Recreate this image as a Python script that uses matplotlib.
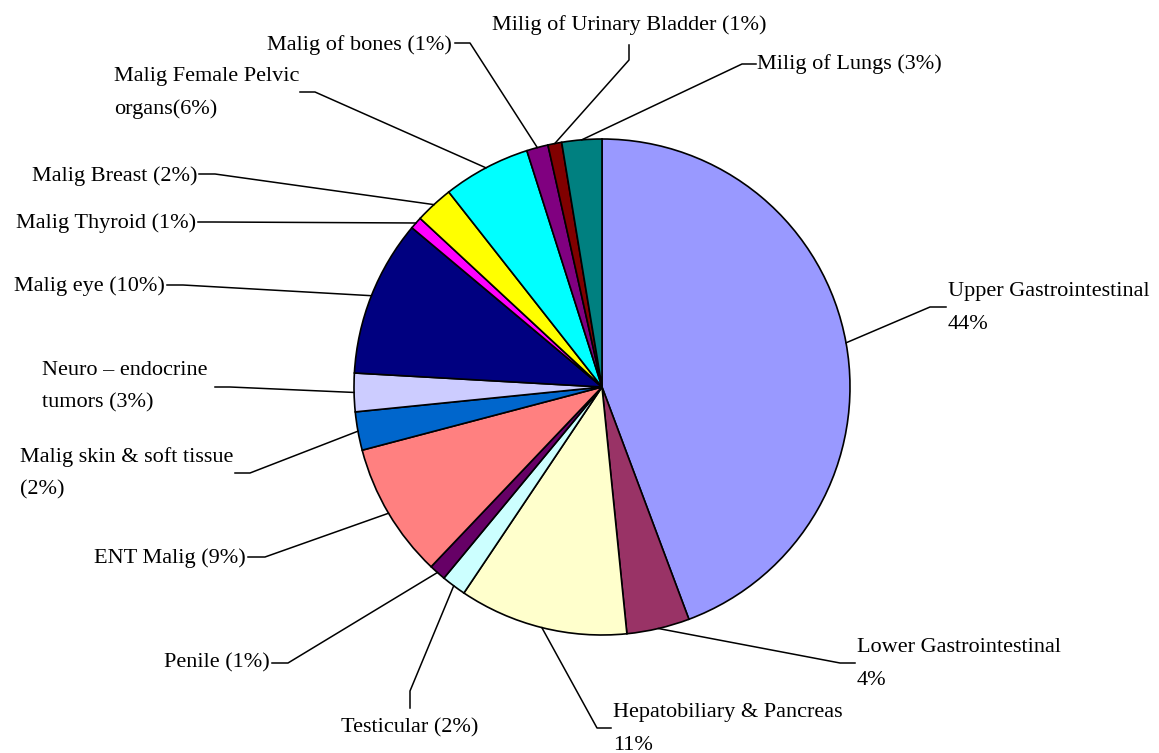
import numpy as np
import matplotlib.pyplot as plt

# 値は画像から読み取った概算
labels = [
    "Upper Gastrointestinal\n44%",
    "Lower Gastrointestinal\n4%",
    "Hepatobiliary & Pancreas\n11%",
    "Testicular (2%)",
    "Penile (1%)",
    "ENT Malig (9%)",
    "Malig skin & soft tissue\n(2%)",
    "Neuro \u2013 endocrine\ntumors (3%)",
    "Malig eye (10%)",
    "Malig Thyroid (1%)",
    "Malig Breast (2%)",
    "Malig Female Pelvic\norgans(6%)",
    "Malig of bones (1%)",
    "Milig of Urinary Bladder (1%)",
    "Milig of Lungs (3%)",
]
values = [44.3, 4.1, 11.0, 1.6, 1.1, 8.8, 2.5, 2.5, 10.2, 0.8, 2.5, 5.7, 1.4, 0.9, 2.6]
colors = ["#9999FF", "#993366", "#FFFFCC", "#CCFFFF", "#660066", "#FF8080",
          "#0066CC", "#CCCCFF", "#000080", "#FF00FF", "#FFFF00", "#00FFFF",
          "#800080", "#800000", "#008080"]

# ラベル配置（ピクセル座標, 上が0）
knee = [(930, 307), (840, 663), (597, 728), (410, 691), (288, 663), (265, 557),
        (250, 473), (230, 387), (183, 285), (213, 222), (215, 174), (315, 92),
        (470, 43), (629, 60), (742, 64)]
stub = [(946, 307), (855, 663), (611, 728), (410, 708), (272, 663), (248, 557),
        (235, 473), (215, 387), (167, 285), (198, 222), (199, 174), (300, 92),
        (455, 43), (629, 45), (756, 64)]
text_xy = [(948, 308), (857, 664), (613, 729), (410, 728), (270, 663), (246, 558),
           (20, 473), (42, 387), (165, 286), (196, 223), (197, 176), (114, 93),
           (452, 45), (629, 25), (757, 64)]
text_ha = ["left", "left", "left", "center", "right", "right", "left", "left",
           "right", "right", "right", "left", "right", "center", "left"]

W, H = 1159, 753
cx, cy, r = 602, 387, 248

plt.rcParams['font.family'] = ['Liberation Serif', 'DejaVu Serif']

fig = plt.figure(figsize=(W / 100, H / 100), dpi=100)
ax = fig.add_axes([0, 0, 1, 1])

wedges, _ = ax.pie(values, colors=colors, startangle=90, counterclock=False,
                   center=(cx, H - cy), radius=r,
                   wedgeprops=dict(edgecolor="black", linewidth=1.2))
ax.set_xlim(0, W)
ax.set_ylim(0, H)
ax.set_aspect("auto")
ax.axis("off")

for w, lab, k, s, t, ha in zip(wedges, labels, knee, stub, text_xy, text_ha):
    # 扇形の外周中央から引き出し線
    mid = np.deg2rad((w.theta1 + w.theta2) / 2)
    ex = cx + r * np.cos(mid)
    ey = H - cy + r * np.sin(mid)
    ax.plot([ex, k[0], s[0]], [ey, H - k[1], H - s[1]], color="black", lw=1.1)
    ax.text(t[0], H - t[1], lab, ha=ha, va="center", fontsize=16,
            linespacing=1.95, color="black")

fig.savefig("out.png", dpi=100)
